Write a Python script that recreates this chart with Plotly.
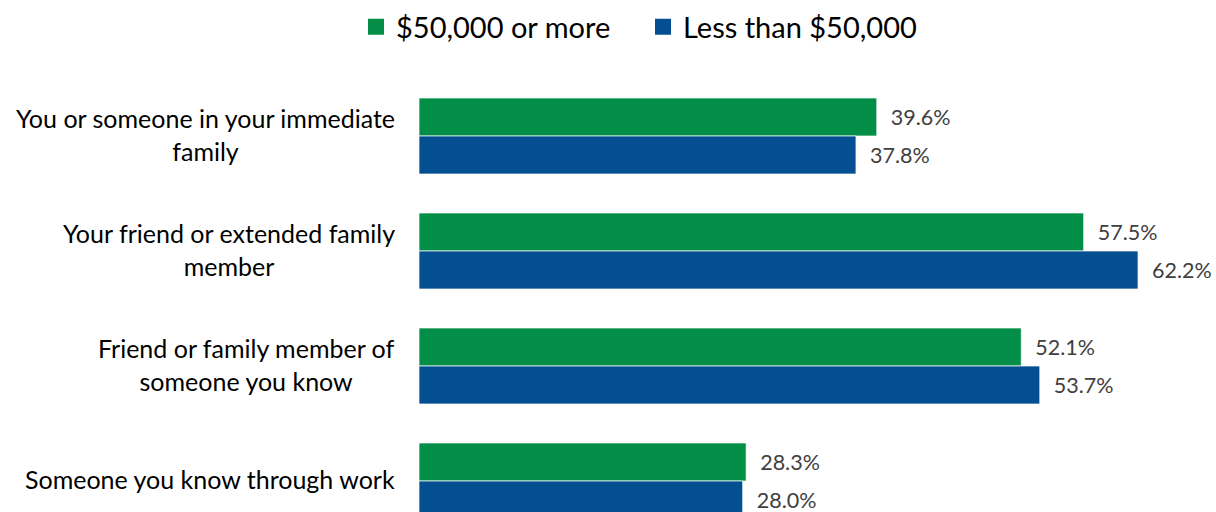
import plotly.graph_objects as go

categories = [
    "You or someone in your immediate<br>family",
    "Your friend or extended family<br>member",
    "Friend or family member of<br>someone you know",
    "Someone you know through work",
]
series_names = ["$50,000 or more", "Less than $50,000"]
high_income = [39.6, 57.5, 52.1, 28.3]
low_income = [37.8, 62.2, 53.7, 28.0]
colors = ["#038E47", "#034F91"]

FONT = "Lato"
W, H = 1216, 512
L = 419
pos = list(range(len(categories)))

fig = go.Figure()
for name, vals, col in zip(series_names, [high_income, low_income], colors):
    fig.add_trace(go.Bar(
        y=pos, x=vals, name=name, orientation="h", showlegend=False,
        marker=dict(color=col, line=dict(color="rgba(255,255,255,0.7)", width=1)),
        text=[f"\u00a0\u00a0{v:.1f}%" for v in vals],
        textposition="outside",
        textfont=dict(family=FONT, size=21.5, color="#404040"),
        cliponaxis=False,
    ))
# legend entries with larger square swatches
for name, col in zip(series_names, colors):
    fig.add_trace(go.Scatter(
        x=[None], y=[None], mode="markers", name=name,
        marker=dict(symbol="square", size=17, color=col),
        showlegend=True,
    ))

for i, c in enumerate(categories):
    fig.add_annotation(
        x=0, xref="paper", y=i, yref="y", xshift=-22, yshift=2,
        xanchor="right", yanchor="middle", align="center",
        text=c, showarrow=False,
        font=dict(family=FONT, size=25, color="#000000"),
    )

px_per_unit = 115
top_px = 60
fig.update_layout(
    width=W, height=H,
    margin=dict(l=L, r=0, t=top_px, b=0),
    plot_bgcolor="white", paper_bgcolor="white",
    barmode="group", bargap=0.339, bargroupgap=0,
    xaxis=dict(range=[0, (W - L) / 11.56], visible=False, fixedrange=True),
    yaxis=dict(range=[3 + 31 / px_per_unit, -76 / px_per_unit], visible=False, fixedrange=True),
    showlegend=True,
    legend=dict(
        orientation="h", xref="container", yref="container",
        x=356 / W, xanchor="left", y=1 - 27 / H, yanchor="middle",
        font=dict(family=FONT, size=29, color="#000000"),
        traceorder="normal", entrywidth=242, itemsizing="trace",
    ),
)

fig.write_html("out.html", config={"displayModeBar": False},
               post_script="document.body.style.margin='0';")
